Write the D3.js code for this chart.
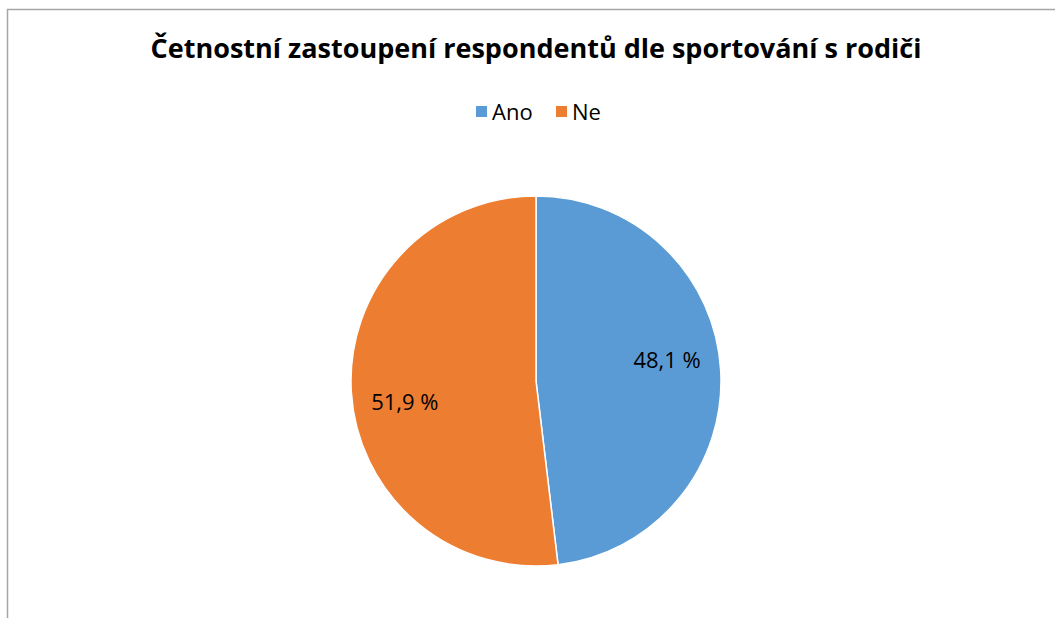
<!DOCTYPE html>
<html>
<head>
<meta charset="utf-8">
<script src="https://d3js.org/d3.v7.min.js"></script>
<style>
  body { margin: 0; background: #fff; }
  text { font-family: "Open Sans", "Noto Sans", sans-serif; }
</style>
</head>
<body>
<script>
// chart data
var categories = ["Ano", "Ne"];
var values = [48.1, 51.9];
var labels = ["48,1 %", "51,9 %"];
var colors = ["#5B9BD5", "#ED7D31"];
var title = "Četnostní zastoupení respondentů dle sportování s rodiči";

var width = 1055,
    height = 618;

var svg = d3.select("body")
    .append("svg")
    .attr("width", width)
    .attr("height", height);

// chart frame (only left and top edges are visible)
svg.append("rect")
    .attr("x", 7.5)
    .attr("y", 9.5)
    .attr("width", 1100)
    .attr("height", 700)
    .attr("fill", "none")
    .attr("stroke", "#a6a6a6")
    .attr("stroke-width", 1.5);

// title
svg.append("text")
    .attr("x", 536)
    .attr("y", 58)
    .attr("text-anchor", "middle")
    .attr("font-size", 27)
    .attr("font-weight", "bold")
    .attr("fill", "#000")
    .text(title);

// legend
var legend = svg.append("g");
var legendX = [476, 556];
categories.forEach(function(c, i){
    legend.append("rect")
        .attr("x", legendX[i])
        .attr("y", 106)
        .attr("width", 11)
        .attr("height", 11)
        .attr("fill", colors[i]);
    legend.append("text")
        .attr("x", legendX[i] + 16)
        .attr("y", 120)
        .attr("font-size", 22)
        .attr("fill", "#000")
        .text(c);
});

// pie
var cx = 536, cy = 381, r = 185;

var pie = d3.pie().sort(null).value(function(d){ return d; });
var arc = d3.arc().innerRadius(0).outerRadius(r);
var labelArc = d3.arc().innerRadius(r * 0.71).outerRadius(r * 0.71);

var g = svg.append("g").attr("transform", "translate(" + cx + "," + cy + ")");
var arcs = pie(values);

g.selectAll(".slice")
    .data(arcs)
    .enter()
    .append("path")
    .attr("class", "slice")
    .attr("d", arc)
    .attr("fill", function(d, i){ return colors[i]; })
    .attr("stroke", "#fff")
    .attr("stroke-width", 1.5);

var labelShift = [-13, 13];
g.selectAll(".lbl")
    .data(arcs)
    .enter()
    .append("text")
    .attr("class", "lbl")
    .attr("transform", function(d, i){
        var c = labelArc.centroid(d);
        return "translate(" + c[0] + "," + (c[1] + labelShift[i]) + ")";
    })
    .attr("text-anchor", "middle")
    .attr("dy", "0.35em")
    .attr("font-size", 22)
    .attr("fill", "#000")
    .text(function(d, i){ return labels[i]; });
</script>
</body>
</html>
